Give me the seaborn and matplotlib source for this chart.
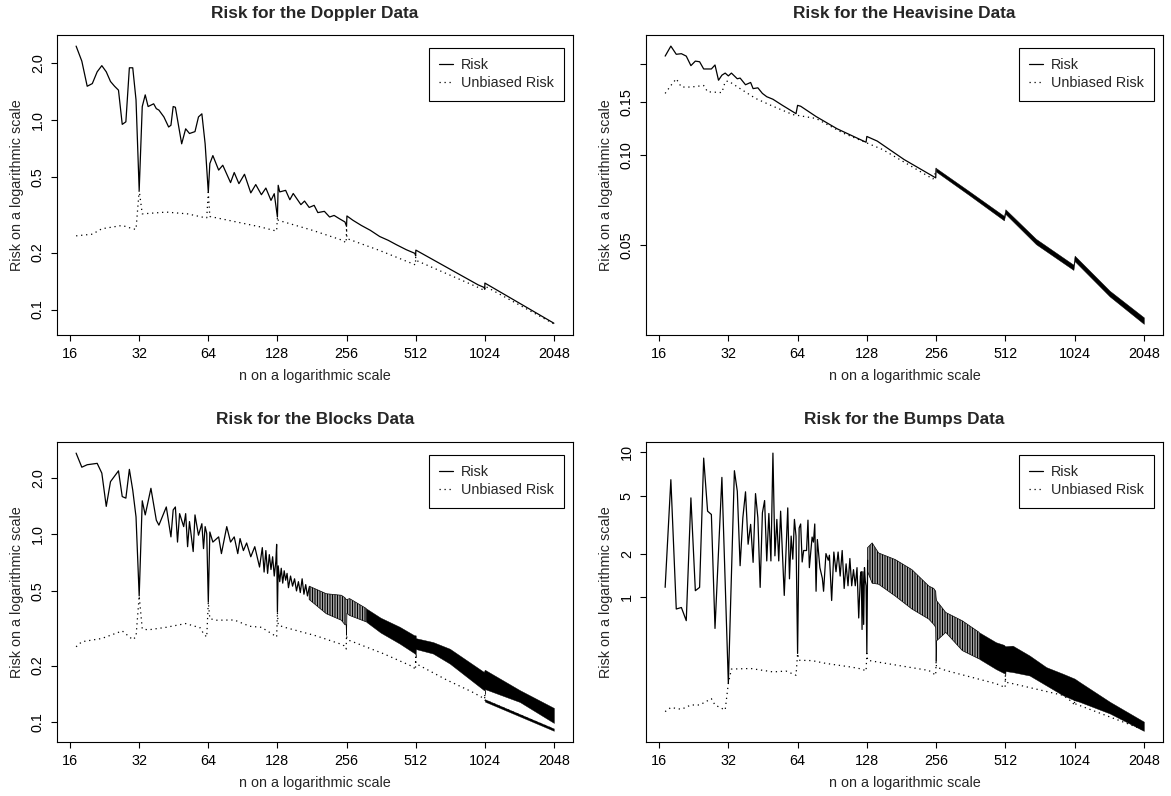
import numpy as np
import pandas as pd
import matplotlib
matplotlib.use("Agg")
import matplotlib.pyplot as plt
from matplotlib.lines import Line2D
from matplotlib.ticker import NullLocator
import seaborn as sns

# ---------------------------------------------------------------- data
x_ticks = [16, 32, 64, 128, 256, 512, 1024, 2048]
x_tick_labels = ["16", "32", "64", "128", "256", "512", "1024", "2048"]

titles = ["Risk for the Doppler Data", "Risk for the Heavisine Data",
          "Risk for the Blocks Data", "Risk for the Bumps Data"]
series_labels = ["Risk", "Unbiased Risk"]

# (n, risk)
doppler_risk = [(17, 2.46), (18, 2.05), (19, 1.51), (20, 1.56), (21, 1.80), (22, 1.94), (23, 1.80),
                (24, 1.60), (25, 1.51), (26, 1.44), (27, 0.95), (28, 0.98), (29, 1.89), (30, 1.89),
                (31, 1.28), (32, 0.426), (33, 1.18), (34, 1.36), (35, 1.18), (37, 1.22), (38, 1.15),
                (39, 1.13), (41, 1.04), (43, 0.92), (44, 0.94), (45, 1.18), (46, 1.17), (49, 0.75),
                (51, 0.90), (53, 0.85), (56, 0.87), (58, 1.04), (60, 1.08), (62, 0.75), (64, 0.416),
                (65, 0.59), (67, 0.65), (71, 0.545), (74, 0.578), (80, 0.468), (83, 0.529), (87, 0.462),
                (92, 0.518), (98, 0.413), (103, 0.457), (109, 0.404), (114, 0.438), (120, 0.377),
                (124, 0.409), (128, 0.308), (129, 0.453), (131, 0.418), (139, 0.426), (145, 0.38),
                (150, 0.41), (162, 0.358), (168, 0.374), (176, 0.346), (185, 0.355), (192, 0.325),
                (205, 0.33), (216, 0.308), (226, 0.314), (238, 0.302), (252, 0.29), (256, 0.275),
                (257, 0.312), (273, 0.296), (297, 0.278), (325, 0.262), (357, 0.243), (389, 0.232),
                (422, 0.22), (466, 0.207), (508, 0.198), (512, 0.192), (513, 0.206), (958, 0.135),
                (1015, 0.131), (1024, 0.128), (1025, 0.138), (2048, 0.0847)]
doppler_unbiased = [(17, 0.245), (20, 0.25), (22, 0.267), (27, 0.278), (30, 0.267), (31, 0.265),
                    (32, 0.426), (33, 0.32), (42, 0.327), (52, 0.32), (60, 0.308), (63, 0.305),
                    (64, 0.416), (65, 0.31), (85, 0.29), (108, 0.273), (123, 0.262), (127, 0.26),
                    (128, 0.308), (129, 0.296), (182, 0.262), (246, 0.232), (255, 0.225), (256, 0.27),
                    (257, 0.237), (357, 0.205), (500, 0.174), (511, 0.172), (512, 0.19), (513, 0.182),
                    (943, 0.132), (1023, 0.126), (1024, 0.128), (1025, 0.133), (2048, 0.084)]

heavisine_risk = [(17, 0.213), (18, 0.230), (19, 0.216), (20, 0.217), (21, 0.213), (22, 0.198),
                  (23, 0.205), (24, 0.204), (25, 0.193), (27, 0.193), (28, 0.199), (29, 0.177),
                  (30, 0.184), (31, 0.187), (32, 0.183), (33, 0.187), (35, 0.179), (36, 0.180),
                  (38, 0.171), (40, 0.174), (41, 0.166), (43, 0.167), (45, 0.160), (47, 0.156),
                  (50, 0.153), (55, 0.146), (63, 0.137), (64, 0.146), (66, 0.145), (77, 0.134),
                  (95, 0.122), (127, 0.110), (128, 0.115), (142, 0.111), (186, 0.0963),
                  (255, 0.0837), (256, 0.090)]
# dense part: (n, lower edge, upper edge)
heavisine_band = [(256, 0.0878, 0.0902), (355, 0.0735, 0.0757), (505, 0.0604, 0.0625),
                  (512, 0.0635, 0.0658), (696, 0.0503, 0.0524), (1012, 0.0413, 0.0430),
                  (1024, 0.0442, 0.0461), (1455, 0.0337, 0.0352), (2048, 0.0273, 0.0287)]
heavisine_unbiased = [(17, 0.160), (18, 0.170), (19, 0.179), (20, 0.168), (22, 0.168), (25, 0.170),
                      (26, 0.162), (30, 0.161), (31, 0.175), (32, 0.176), (36, 0.166), (42, 0.154),
                      (50, 0.145), (61, 0.136), (77, 0.132), (101, 0.118), (150, 0.104),
                      (248, 0.083), (256, 0.088)]

blocks_risk = [(17, 2.71), (18, 2.28), (19, 2.35), (21, 2.39), (22, 2.12), (23, 1.41), (24, 1.91),
               (26, 2.18), (27, 1.59), (28, 1.56), (29, 2.22), (30, 1.72), (31, 1.24), (32, 0.47),
               (33, 1.51), (34, 1.27), (36, 1.76), (38, 1.19), (39, 1.12), (42, 1.40), (44, 0.97),
               (45, 1.35), (46, 1.40), (47, 0.91), (48, 1.29), (50, 1.10), (51, 1.29), (52, 0.86),
               (53, 1.17), (55, 0.81), (56, 1.27), (58, 0.99), (60, 1.14), (61, 0.84), (62, 1.10),
               (63, 1.01), (64, 0.435), (65, 1.03), (67, 0.91), (71, 0.97), (73, 0.79), (77, 1.10),
               (80, 0.91), (83, 0.97), (86, 0.79), (88, 0.95), (91, 0.82), (94, 0.90), (98, 0.76),
               (102, 0.86), (107, 0.67), (110, 0.85), (112, 0.63), (114, 0.82), (116, 0.62),
               (118, 0.78), (120, 0.65), (122, 0.76), (124, 0.60), (126, 0.72), (127, 0.885),
               (128, 0.385), (129, 0.68), (131, 0.56), (133, 0.66), (135, 0.55), (137, 0.64),
               (139, 0.57), (141, 0.62), (143, 0.52), (146, 0.60), (149, 0.53), (152, 0.58),
               (155, 0.50), (158, 0.56), (161, 0.49), (164, 0.58), (167, 0.48), (170, 0.54),
               (173, 0.47), (176, 0.52)]
blocks_band = [(176, 0.45, 0.53), (209, 0.378, 0.483), (243, 0.349, 0.474), (252, 0.33, 0.46),
               (255, 0.33, 0.45), (256, 0.29, 0.45), (257, 0.38, 0.45), (264, 0.37, 0.455),
               (312, 0.342, 0.403), (360, 0.30, 0.36), (436, 0.262, 0.322), (505, 0.233, 0.29),
               (511, 0.23, 0.29), (512, 0.222, 0.29), (513, 0.245, 0.28), (609, 0.232, 0.267),
               (721, 0.205, 0.246), (1015, 0.148, 0.185), (1023, 0.148, 0.19), (1024, 0.141, 0.19),
               (1025, 0.15, 0.19), (1455, 0.128, 0.148), (2048, 0.099, 0.119)]
blocks_unbiased = [(17, 0.252), (18, 0.268), (22, 0.279), (27, 0.306), (30, 0.275), (31, 0.285),
                   (32, 0.47), (33, 0.314), (35, 0.31), (42, 0.32), (51, 0.335), (59, 0.318),
                   (61, 0.296), (63, 0.284), (64, 0.435), (65, 0.356), (69, 0.349), (83, 0.35),
                   (97, 0.324), (109, 0.32), (124, 0.29), (127, 0.284), (128, 0.385), (129, 0.33),
                   (135, 0.322), (189, 0.288), (238, 0.262), (250, 0.255), (255, 0.245), (256, 0.29),
                   (257, 0.28), (264, 0.272), (369, 0.232), (500, 0.197), (511, 0.19), (512, 0.222),
                   (513, 0.205), (697, 0.168), (900, 0.145), (1023, 0.133), (1024, 0.141),
                   (1025, 0.131), (2048, 0.0917)]
blocks_unbiased_band = [(1025, 0.1285, 0.1325), (2048, 0.0898, 0.0925)]

bumps_risk = [(17, 1.17), (18, 6.46), (19, 0.83), (20, 0.85), (21, 0.69), (22, 4.84), (23, 1.11),
              (24, 1.17), (25, 9.1), (26, 3.92), (27, 3.72), (28, 0.61), (30, 6.7), (32, 0.255),
              (34, 7.45), (35, 5.38), (36, 1.65), (37, 3.53), (38, 5.33), (39, 2.32), (40, 3.18),
              (41, 1.74), (42, 5.18), (43, 3.53), (44, 1.17), (45, 3.82), (46, 4.64), (47, 1.78),
              (48, 3.78), (49, 1.78), (50, 9.85), (51, 1.93), (52, 3.44), (53, 1.78), (54, 3.92),
              (56, 1.03), (58, 4.13), (59, 1.34), (60, 2.64), (61, 1.83), (62, 3.44), (63, 2.64),
              (64, 0.41), (65, 3.0), (66, 3.2), (67, 1.75), (68, 2.1), (70, 2.1), (71, 3.4),
              (72, 1.6), (74, 2.6), (75, 2.4), (76, 3.2), (77, 1.1), (78, 2.5), (80, 1.6),
              (82, 1.35), (83, 1.1), (85, 2.0), (87, 1.8), (88, 1.95), (90, 0.95), (92, 2.05),
              (94, 1.5), (96, 2.05), (98, 1.4), (100, 2.1), (102, 1.15), (104, 1.7), (106, 1.2),
              (108, 1.85), (110, 1.2), (112, 1.55), (114, 1.2), (116, 1.6), (118, 0.72),
              (120, 1.4), (121, 1.5), (122, 0.6), (123, 1.5), (124, 0.65), (125, 1.6), (126, 1.3),
              (127, 1.2), (128, 0.41), (129, 1.8)]
bumps_band = [(129, 1.5, 2.2), (135, 1.25, 2.37), (144, 1.23, 2.02), (170, 1.02, 1.82),
              (201, 0.83, 1.55), (238, 0.707, 1.195), (250, 0.65, 1.15), (255, 0.62, 1.1),
              (256, 0.36, 1.0), (257, 0.5, 0.95), (282, 0.573, 0.786), (333, 0.429, 0.688),
              (394, 0.376, 0.573), (466, 0.32, 0.49), (505, 0.30, 0.47), (511, 0.30, 0.46),
              (512, 0.29, 0.46), (513, 0.31, 0.46), (551, 0.305, 0.464), (652, 0.289, 0.397),
              (771, 0.247, 0.33), (912, 0.211, 0.297), (1024, 0.195, 0.275), (1079, 0.19, 0.26),
              (1460, 0.158, 0.19), (2048, 0.12, 0.139)]
bumps_unbiased = [(17, 0.163), (18, 0.174), (20, 0.169), (22, 0.181), (24, 0.181), (27, 0.20),
                  (28, 0.181), (31, 0.167), (32, 0.255), (33, 0.32), (40, 0.323), (50, 0.306),
                  (57, 0.31), (63, 0.29), (64, 0.41), (65, 0.368), (74, 0.366), (85, 0.35),
                  (110, 0.33), (122, 0.32), (127, 0.31), (128, 0.41), (129, 0.368), (144, 0.357),
                  (238, 0.313), (250, 0.297), (255, 0.29), (256, 0.36), (257, 0.33), (282, 0.313),
                  (466, 0.254), (505, 0.241), (511, 0.238), (512, 0.29), (513, 0.26), (551, 0.254),
                  (912, 0.211), (1000, 0.19), (1023, 0.18), (1024, 0.2), (1025, 0.185),
                  (2048, 0.122)]

doppler_yticks = [0.1, 0.2, 0.5, 1.0, 2.0]
doppler_yticklabels = ["0.1", "0.2", "0.5", "1.0", "2.0"]
heavisine_yticks = [0.05, 0.10, 0.15, 0.20]
heavisine_yticklabels = ["0.05", "0.10", "0.15", ""]
blocks_yticks = [0.1, 0.2, 0.5, 1.0, 2.0]
blocks_yticklabels = ["0.1", "0.2", "0.5", "1.0", "2.0"]
bumps_yticks = [1, 2, 5, 10]
bumps_yticklabels = ["1", "2", "5", "10"]

# ---------------------------------------------------------------- style
sns.set_theme(style="ticks")
plt.rcParams["font.family"] = ["Liberation Sans", "DejaVu Sans"]
FS = 10.4
plt.rcParams.update({
    "axes.edgecolor": "black", "axes.linewidth": 0.8,
    "xtick.color": "black", "ytick.color": "black",
    "xtick.major.size": 4.3, "ytick.major.size": 4.3,
    "xtick.major.width": 0.8, "ytick.major.width": 0.8,
    "xtick.major.pad": 4.5, "ytick.major.pad": 4.5,
    "xtick.labelsize": FS, "ytick.labelsize": FS,
    "hatch.linewidth": 0.75,
})

W, H = 1171, 796
fig = plt.figure(figsize=(W / 100, H / 100), dpi=100)
boxes = [(57, 35, 516, 300), (646, 35, 517, 300), (57, 442, 516, 300), (646, 442, 517, 300)]
# n up to which the dense band still shows separate strokes (drawn hatched)
sparse_until = [None, None, 312, 394]

LW = 0.9
DOT = (0, (1, 3))


def to_df(pairs):
    return pd.DataFrame(pairs, columns=["n", "risk"])


def draw_band(ax, bd, split):
    if split is None:
        ax.fill_between(bd["n"], bd["lo"], bd["hi"], color="black", lw=0.3)
        return
    a = bd[bd["n"] <= split]
    b = bd[bd["n"] >= split]
    ax.fill_between(a["n"], a["lo"], a["hi"], facecolor="white", edgecolor="black",
                    hatch="||||||||||", lw=0.5)
    ax.fill_between(b["n"], b["lo"], b["hi"], color="black", lw=0.3)


def panel(box, title, risk, unb, band, unb_band, yticks, yticklabels, split):
    l, t, w, h = box
    ax = fig.add_axes([l / W, 1 - (t + h) / H, w / W, h / H])
    rd = to_df(risk)
    ud = to_df(unb)
    sns.lineplot(data=rd, x="n", y="risk", ax=ax, color="black", lw=LW,
                 estimator=None, sort=False)
    allv = list(rd["risk"]) + list(ud["risk"])
    xs = list(rd["n"]) + list(ud["n"])
    if band is not None:
        bd = pd.DataFrame(band, columns=["n", "lo", "hi"])
        draw_band(ax, bd, split)
        allv += list(bd["lo"]) + list(bd["hi"])
        xs += list(bd["n"])
    sns.lineplot(data=ud, x="n", y="risk", ax=ax, color="black", lw=LW,
                 linestyle=DOT, estimator=None, sort=False)
    if unb_band is not None:
        ubd = pd.DataFrame(unb_band, columns=["n", "lo", "hi"])
        ax.fill_between(ubd["n"], ubd["lo"], ubd["hi"], color="black", lw=0.2)
        allv += list(ubd["lo"]) + list(ubd["hi"])

    ax.set_xscale("log", base=2)
    ax.set_yscale("log")
    # R-style 4% padding in log space
    lx0, lx1 = np.log2(min(xs)), np.log2(max(xs))
    px = 0.04 * (lx1 - lx0)
    ax.set_xlim(2 ** (lx0 - px), 2 ** (lx1 + px))
    ly0, ly1 = np.log10(min(allv)), np.log10(max(allv))
    py = 0.04 * (ly1 - ly0)
    ax.set_ylim(10 ** (ly0 - py), 10 ** (ly1 + py))

    ax.set_xticks(x_ticks)
    ax.set_xticklabels(x_tick_labels)
    ax.set_yticks(yticks)
    ax.set_yticklabels(yticklabels, rotation=90, va="center")
    ax.xaxis.set_minor_locator(NullLocator())
    ax.yaxis.set_minor_locator(NullLocator())
    ax.tick_params(top=False, right=False)

    ax.set_xlabel("n on a logarithmic scale", fontsize=FS)
    ax.set_ylabel("Risk on a logarithmic scale", fontsize=FS)
    ax.xaxis.set_label_coords(0.5, -41 / h)
    ax.xaxis.label.set_va("center")
    ax.yaxis.set_label_coords(-40 / w, 0.5)
    ax.yaxis.label.set_va("center")
    ax.set_title(title, fontsize=12.4, fontweight="bold", y=1 + 22 / h, pad=0, va="center")

    handles = [Line2D([], [], color="black", lw=LW),
               Line2D([], [], color="black", lw=LW, linestyle=DOT)]
    leg = ax.legend(handles, series_labels, loc="upper right",
                    bbox_to_anchor=(1 - 9 / w, 1 - 13 / h), borderaxespad=0,
                    fontsize=FS, frameon=True, fancybox=False, framealpha=1,
                    edgecolor="black", handlelength=1.0, handletextpad=0.55,
                    borderpad=0.7, labelspacing=0.3)
    leg.get_frame().set_linewidth(0.8)
    return ax


panel(boxes[0], titles[0], doppler_risk, doppler_unbiased, None, None,
      doppler_yticks, doppler_yticklabels, sparse_until[0])
panel(boxes[1], titles[1], heavisine_risk, heavisine_unbiased, heavisine_band, None,
      heavisine_yticks, heavisine_yticklabels, sparse_until[1])
panel(boxes[2], titles[2], blocks_risk, blocks_unbiased, blocks_band, blocks_unbiased_band,
      blocks_yticks, blocks_yticklabels, sparse_until[2])
panel(boxes[3], titles[3], bumps_risk, bumps_unbiased, bumps_band, None,
      bumps_yticks, bumps_yticklabels, sparse_until[3])

fig.savefig("out.png", dpi=100, facecolor="white")
